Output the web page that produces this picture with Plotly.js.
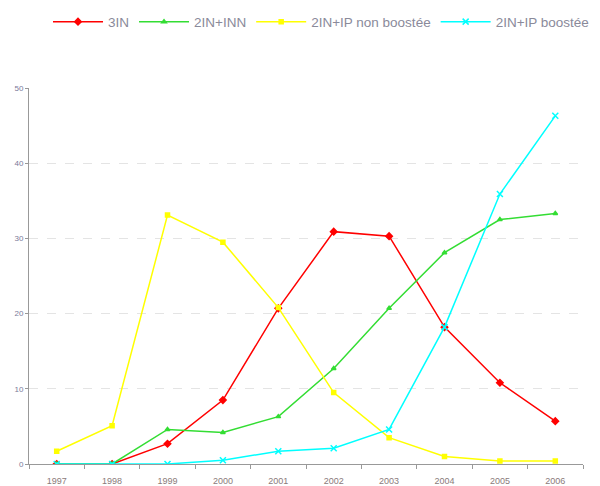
<!DOCTYPE html>
<html>
<head>
<meta charset="utf-8">
<script src="https://cdn.plot.ly/plotly-3.0.1.min.js"></script>
<style>
  html, body { margin: 0; padding: 0; background: #fff; }
  #graph1 { width: 600px; height: 486px; }
</style>
</head>
<body>
<div id="graph1"></div>
<script>
// years on the category axis
let years = ['1997', '1998', '1999', '2000', '2001', '2002', '2003', '2004', '2005', '2006'];

// series values
let val3IN      = [0, 0, 2.7, 8.5, 20.7, 30.9, 30.3, 18.2, 10.8, 5.7];
let val2ININN   = [0, 0, 4.6, 4.2, 6.3, 12.7, 20.7, 28.1, 32.5, 33.3];
let valNonBoost = [1.7, 5.1, 33.1, 29.5, 20.8, 9.5, 3.5, 1.0, 0.4, 0.4];
let valBoost    = [0, 0, 0, 0.5, 1.7, 2.1, 4.6, 18.2, 35.9, 46.3];

let seriesNames = ['3IN', '2IN+INN', '2IN+IP non boostée', '2IN+IP boostée'];
let seriesVals = [val3IN, val2ININN, valNonBoost, valBoost];
let colorArray = ['rgb(255, 0, 0)', 'rgb(51, 221, 51)', 'rgb(255, 255, 0)', 'rgb(0, 255, 255)'];
let symbols = ['diamond', 'triangle-up', 'square', 'x-thin-open'];
let markerSizes = [5, 4, 4, 6];

let traceArray = [];
for (let i = 0; i < seriesNames.length; i++)
{
  traceArray.push({
    x: years,
    y: seriesVals[i],
    name: seriesNames[i],
    type: 'scatter',
    mode: 'lines+markers',
    line: { color: colorArray[i], width: 1.5 },
    marker: {
      symbol: symbols[i],
      size: markerSizes[i],
      color: colorArray[i],
      line: { color: colorArray[i], width: 1.5 }
    }
  });
}

var layout = {
  width: 600,
  height: 486,
  paper_bgcolor: '#fff',
  plot_bgcolor: '#fff',
  font: { family: 'Liberation Sans, Arial, sans-serif', color: '#666' },
  margin: { l: 29, r: 17, t: 88, b: 22 },
  showlegend: true,
  legend: {
    orientation: 'h',
    xref: 'container', yref: 'container',
    x: 0.08, xanchor: 'left',
    y: 0.955, yanchor: 'middle',
    font: { size: 13.5, color: '#8a8a9a' },
    itemwidth: 50,
    tracegroupgap: 0
  },
  xaxis: {
    type: 'category',
    range: [-0.5, 9.5],
    showgrid: false,
    zeroline: false,
    showline: true,
    linecolor: '#999',
    linewidth: 1,
    ticks: 'outside',
    ticklen: 4,
    tickcolor: '#999',
    tickson: 'boundaries',
    ticklabelstandoff: 8,
    tickfont: { size: 9, color: '#8a7a7a' }
  },
  yaxis: {
    range: [0, 50],
    tickvals: [0, 10, 20, 30, 40, 50],
    showgrid: true,
    gridcolor: '#e4e4e4',
    griddash: 'dash',
    zeroline: false,
    showline: true,
    linecolor: '#999',
    linewidth: 1,
    ticks: 'outside',
    ticklen: 3,
    tickcolor: '#999',
    tickfont: { size: 8, color: '#7a7a9a' }
  }
};

Plotly.newPlot('graph1', traceArray, layout, { displayModeBar: false, staticPlot: true });
</script>
</body>
</html>
